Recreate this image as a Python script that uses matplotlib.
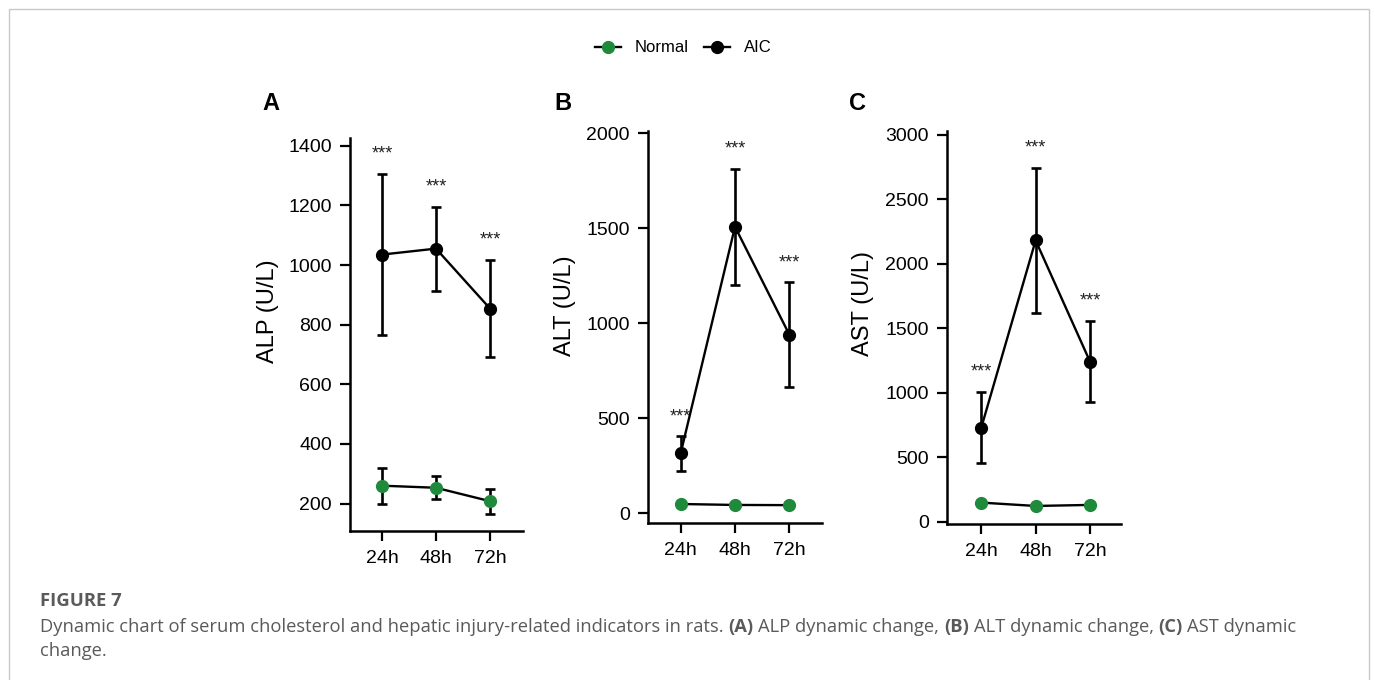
import matplotlib
matplotlib.use("Agg")
import matplotlib.pyplot as plt
from matplotlib.lines import Line2D
from matplotlib.patches import Rectangle
from matplotlib.transforms import ScaledTranslation

# ---------------- data ----------------
categories = ["24h", "48h", "72h"]

alp_normal = [260, 253, 208]
alp_normal_sd = [60, 38, 42]
alp_aic = [1035, 1055, 854]
alp_aic_sd = [270, 141, 164]
alp_star_y = [1385, 1275, 1097]
alp_ticks = [200, 400, 600, 800, 1000, 1200, 1400]

alt_normal = [49, 44, 43]
alt_normal_sd = [8, 6, 6]
alt_aic = [315, 1508, 940]
alt_aic_sd = [90, 305, 277]
alt_star_y = [530, 1938, 1338]
alt_ticks = [0, 500, 1000, 1500, 2000]

ast_normal = [148, 122, 130]
ast_normal_sd = [15, 12, 12]
ast_aic = [729, 2182, 1242]
ast_aic_sd = [275, 560, 317]
ast_star_y = [1190, 2930, 1741]
ast_ticks = [0, 500, 1000, 1500, 2000, 2500, 3000]

series_names = ["Normal", "AIC"]
panel_letters = ["A", "B", "C"]
y_labels = ["ALP (U/L)", "ALT (U/L)", "AST (U/L)"]
star_text = "***"

GREEN = "#1f8a3b"
W, H = 1375, 680

plt.rcParams["font.family"] = ["Liberation Sans", "DejaVu Sans"]

fig = plt.figure(figsize=(W / 100, H / 100), dpi=100)

# border
fig.add_artist(Rectangle((8.5 / W, -0.1), (1369 - 8.5) / W, 1 - 9.5 / H + 0.1,
                         transform=fig.transFigure, fill=False,
                         edgecolor="#c8c8c8", lw=1.0))


def px_box(left, top, right, bottom):
    return [left / W, 1 - bottom / H, (right - left) / W, (bottom - top) / H]


panels = [
    dict(box=px_box(350, 138, 523, 531), xlim=(-0.59, 2.61), ylim=(108, 1426),
         normal=alp_normal, nsd=alp_normal_sd, aic=alp_aic, asd=alp_aic_sd,
         stars=alp_star_y, ticks=alp_ticks, letter_xy=(271, 103), ylab_xy=(268, 311)),
    dict(box=px_box(648, 131, 822, 523), xlim=(-0.6, 2.6), ylim=(-51, 2012),
         normal=alt_normal, nsd=alt_normal_sd, aic=alt_aic, asd=alt_aic_sd,
         stars=alt_star_y, ticks=alt_ticks, letter_xy=(563, 103), ylab_xy=(565, 306)),
    dict(box=px_box(947, 131, 1121, 524), xlim=(-0.63, 2.57), ylim=(-18, 3031),
         normal=ast_normal, nsd=ast_normal_sd, aic=ast_aic, asd=ast_aic_sd,
         stars=ast_star_y, ticks=ast_ticks, letter_xy=(857, 103), ylab_xy=(863, 304)),
]

star_shift = ScaledTranslation(0, -4 / 100, fig.dpi_scale_trans)

x = list(range(len(categories)))
for i, p in enumerate(panels):
    ax = fig.add_axes(p["box"])
    for s in ["top", "right"]:
        ax.spines[s].set_visible(False)
    for s in ["left", "bottom"]:
        ax.spines[s].set_linewidth(1.8)
    ax.tick_params(axis="both", length=7, width=1.6, labelsize=14, color="black")
    ax.tick_params(axis="x", pad=7)
    ax.tick_params(axis="y", pad=6)
    ax.set_xlim(*p["xlim"])
    ax.set_ylim(*p["ylim"])
    ax.set_xticks(x)
    ax.set_xticklabels(categories)
    ax.set_yticks(p["ticks"])
    ax.set_yticklabels([str(t) for t in p["ticks"]])

    # error bars
    ax.errorbar(x, p["aic"], yerr=p["asd"], fmt="none", ecolor="black",
                elinewidth=1.9, capsize=3.4, capthick=1.9, zorder=2)
    ax.errorbar(x, p["normal"], yerr=p["nsd"], fmt="none", ecolor="black",
                elinewidth=1.9, capsize=3.4, capthick=1.9, zorder=2)
    # lines + points
    ax.plot(x, p["aic"], "-", color="black", lw=1.7, zorder=3)
    ax.plot(x, p["aic"], "o", color="black", ms=8.5, zorder=4)
    ax.plot(x, p["normal"], "-", color="black", lw=1.7, zorder=3)
    ax.plot(x, p["normal"], "o", color=GREEN, mec=GREEN, ms=8.5, zorder=4)

    for xi, sy in zip(x, p["stars"]):
        ax.text(xi, sy, star_text, ha="center", va="center", fontsize=13,
                color="#222222", transform=ax.transData + star_shift)

    lx, ly = p["letter_xy"]
    fig.text(lx / W, 1 - ly / H, panel_letters[i], fontsize=17, fontweight="bold",
             ha="center", va="center")
    yx, yy = p["ylab_xy"]
    fig.text(yx / W, 1 - yy / H, y_labels[i], fontsize=17, rotation=90,
             ha="center", va="center")

# legend
handles = [
    Line2D([0], [0], color="black", lw=1.7, marker="o", mfc=GREEN, mec=GREEN, ms=8.5),
    Line2D([0], [0], color="black", lw=1.7, marker="o", mfc="black", mec="black", ms=8.5),
]
fig.legend(handles, series_names, loc="center", bbox_to_anchor=(683 / W, 1 - 48 / H),
           ncol=2, frameon=False, fontsize=12, handlelength=1.6, handletextpad=0.8,
           columnspacing=0.9)

# caption
CAP = "#5a5a5a"
cap_family = ["Open Sans", "DejaVu Sans"]
fig.text(40 / W, 1 - 601 / H, "FIGURE 7", fontsize=13.3, fontweight="bold",
         family=cap_family, color=CAP, ha="left", va="center")

segments = [
    ("Dynamic chart of serum cholesterol and hepatic injury-related indicators in rats.", "normal"),
    ("(A)", "bold"),
    ("ALP dynamic change,", "normal"),
    ("(B)", "bold"),
    ("ALT dynamic change,", "normal"),
    ("(C)", "bold"),
    ("AST dynamic", "normal"),
]
fig.canvas.draw()
renderer = fig.canvas.get_renderer()
cap_fs = 13.2


def text_w(s, weight):
    t = fig.text(0, 0, s, fontsize=cap_fs, fontweight=weight, family=cap_family)
    w = t.get_window_extent(renderer).width
    t.remove()
    return w


space_w = text_w("a a", "normal") - text_w("aa", "normal")
xpos = 40.0
y1 = 1 - 627 / H
for s, wgt in segments:
    t = fig.text(xpos / W, y1, s, fontsize=cap_fs, fontweight=wgt, family=cap_family,
                 color=CAP, ha="left", va="center")
    xpos += t.get_window_extent(renderer).width + space_w
fig.text(40 / W, 1 - 651 / H, "change.", fontsize=cap_fs, family=cap_family,
         color=CAP, ha="left", va="center")

fig.savefig("out.png", dpi=100)
